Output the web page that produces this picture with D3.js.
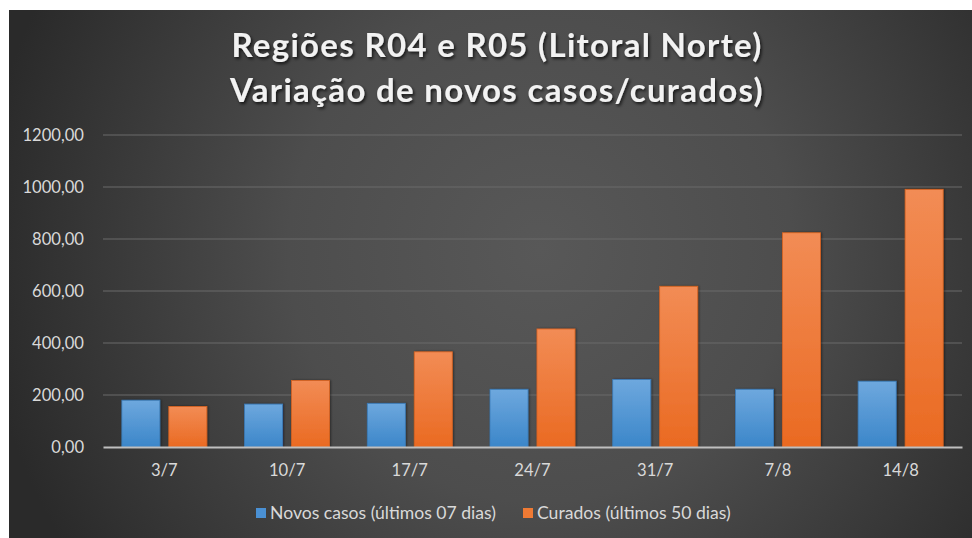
<!DOCTYPE html>
<html>
<head>
<meta charset="utf-8">
<script src="https://cdn.jsdelivr.net/npm/d3@7"></script>
<style>
  html, body { margin: 0; padding: 0; background: #ffffff; }
  svg { display: block; }
</style>
</head>
<body>
<div id="chart"></div>
<script>
const categories = ["3/7", "10/7", "17/7", "24/7", "31/7", "7/8", "14/8"];
const novosCasos = [180, 165, 168, 222, 260, 222, 253];
const curados = [156, 256, 366, 454, 618, 824, 991];
const yTicks = [0, 200, 400, 600, 800, 1000, 1200];
const seriesNames = ["Novos casos (últimos 07 dias)", "Curados (últimos 50 dias)"];
const titleLines = ["Regiões R04 e R05 (Litoral Norte)", "Variação de novos casos/curados)"];

(function () {
const W = 972, H = 538;
const FONT = "Lato, 'Open Sans', sans-serif";

const svg = d3.select("#chart").append("svg").attr("width", W).attr("height", H);
const defs = svg.append("defs");

const bg = defs.append("radialGradient").attr("id", "bg")
  .attr("gradientUnits", "userSpaceOnUse")
  .attr("cx", 540).attr("cy", 250).attr("r", 560);
bg.append("stop").attr("offset", "0%").attr("stop-color", "#585858");
bg.append("stop").attr("offset", "45%").attr("stop-color", "#4d4d4d");
bg.append("stop").attr("offset", "100%").attr("stop-color", "#2a2a2a");

function barGrad(id, topC, bottomC) {
  const g = defs.append("linearGradient").attr("id", id).attr("x1", 0).attr("y1", 0).attr("x2", 0).attr("y2", 1);
  g.append("stop").attr("offset", "0%").attr("stop-color", topC);
  g.append("stop").attr("offset", "100%").attr("stop-color", bottomC);
}
barGrad("gBlue", "#6ea8de", "#3b86c9");
barGrad("gOrange", "#f28c55", "#ea6a22");

const shadow = defs.append("filter").attr("id", "tshadow").attr("x", "-10%").attr("y", "-30%").attr("width", "120%").attr("height", "160%");
shadow.append("feDropShadow").attr("dx", 1.5).attr("dy", 2).attr("stdDeviation", 1.5).attr("flood-color", "#000").attr("flood-opacity", 0.7);

const bshadow = defs.append("filter").attr("id", "bshadow").attr("x", "-20%").attr("y", "-10%").attr("width", "140%").attr("height", "120%");
bshadow.append("feDropShadow").attr("dx", 1).attr("dy", 0).attr("stdDeviation", 1.2).attr("flood-color", "#000").attr("flood-opacity", 0.45);

svg.append("rect").attr("x", 9).attr("y", 10).attr("width", W - 9).attr("height", H - 10).attr("fill", "url(#bg)");

const title = svg.append("g").attr("filter", "url(#tshadow)");
title.selectAll("text").data(titleLines).join("text")
  .attr("x", 497)
  .attr("y", (d, i) => 57 + i * 45)
  .attr("text-anchor", "middle")
  .attr("font-family", FONT)
  .attr("font-weight", "bold")
  .attr("font-size", 33)
  .attr("letter-spacing", 1.3)
  .attr("fill", "#f2f2f2")
  .text(d => d);

const pl = 103, pr = 962, pt = 135, pb = 447;
const x = d3.scaleBand().domain(categories).range([pl, pr]).padding(0);
const bw = x.bandwidth();
const x1 = d3.scaleBand().domain([0, 1]).range([bw / 2 - 42.5, bw / 2 + 42.5]).paddingInner(0.19);
const y = d3.scaleLinear().domain([0, 1200]).range([pb, pt]);

const locale = d3.formatLocale({ decimal: ",", thousands: ".", grouping: [3], currency: ["", ""] });
const fmt = locale.format(".2f");

svg.append("g").selectAll("line").data(yTicks.filter(t => t > 0)).join("line")
  .attr("x1", pl).attr("x2", pr)
  .attr("y1", d => y(d)).attr("y2", d => y(d))
  .attr("stroke", "#6a6a6a").attr("stroke-width", 1.2);

const yAxis = d3.axisLeft(y).tickValues(yTicks).tickFormat(fmt).tickSize(0).tickPadding(19);
const yg = svg.append("g").attr("transform", `translate(${pl},0)`).call(yAxis);
yg.select(".domain").remove();
yg.selectAll("text").attr("font-family", FONT).attr("font-size", 16.6).attr("fill", "#d9d9d9");

const series = [
  { name: seriesNames[0], values: novosCasos, fill: "url(#gBlue)", stroke: "#3a7bb8" },
  { name: seriesNames[1], values: curados, fill: "url(#gOrange)", stroke: "#d8621f" }
];
series.forEach((s, si) => {
  svg.append("g").attr("filter", "url(#bshadow)").selectAll("rect").data(categories).join("rect")
    .attr("x", (c) => x(c) + x1(si))
    .attr("width", x1.bandwidth())
    .attr("y", (c, i) => y(s.values[i]))
    .attr("height", (c, i) => y(0) - y(s.values[i]))
    .attr("fill", s.fill)
    .attr("stroke", s.stroke).attr("stroke-width", 0.8);
});

const xAxis = d3.axisBottom(x).tickSize(0).tickPadding(17);
const xg = svg.append("g").attr("transform", `translate(0,${pb})`).call(xAxis);
xg.select(".domain").attr("stroke", "#bfbfbf").attr("stroke-width", 2);
xg.selectAll("text").attr("font-family", FONT).attr("font-size", 16.6).attr("fill", "#d9d9d9");

const legendItems = [
  { name: seriesNames[0], color: "#4a90d3", x: 256 },
  { name: seriesNames[1], color: "#ef7a34", x: 523 }
];
const lg = svg.append("g");
legendItems.forEach(it => {
  lg.append("rect").attr("x", it.x).attr("y", 508).attr("width", 10).attr("height", 10).attr("fill", it.color);
  lg.append("text").attr("x", it.x + 14).attr("y", 519)
    .attr("font-family", FONT).attr("font-size", 17.6).attr("fill", "#d9d9d9").text(it.name);
});
})();
</script>
</body>
</html>
